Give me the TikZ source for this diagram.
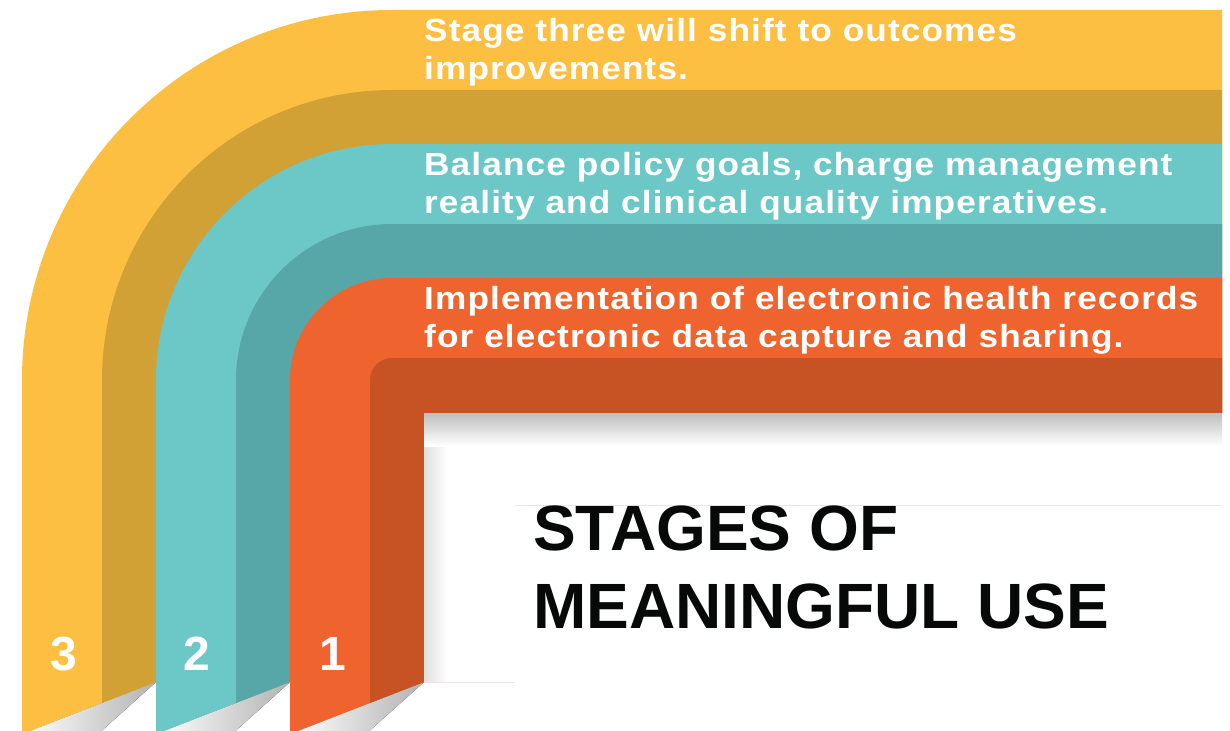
\documentclass[tikz,border=0pt]{standalone}
\usepackage{fontspec}
\setmainfont{Liberation Sans}
\definecolor{ylwlight}{HTML}{FDBF41}
\definecolor{ylwdark}{HTML}{D1A136}
\definecolor{tealight}{HTML}{6BC8C6}
\definecolor{teadark}{HTML}{58A7A8}
\definecolor{orglight}{HTML}{EF632E}
\definecolor{orgdark}{HTML}{C75223}
\definecolor{ink}{HTML}{070808}
\definecolor{hairline}{HTML}{ECE6E4}
\tikzset{
  stagetext/.style={
    anchor=base west, inner sep=0pt, align=left, text=white,
    font=\bfseries\fontsize{32}{38}\selectfont\addfontfeatures{FakeStretch=1.1,LetterSpace=3.5}
  },
  stagenum/.style={
    anchor=base, inner sep=0pt, text=white,
    font=\bfseries\fontsize{48}{48}\selectfont
  },
  titletext/.style={
    anchor=base west, inner sep=0pt, align=left, text=ink,
    font=\bfseries\fontsize{64}{78}\selectfont
  },
  foldshadow/.style={left color=white, right color=black!30}
}
% one stage: light part, dark part and the shadow under its fold
\newcommand{\stageband}[3]{%
  \pgfmathsetmacro{\dl}{#3+80}
  \pgfmathsetmacro{\fx}{#3+134}
  \pgfmathsetmacro{\dy}{734-52*80/134}
  \fill[foldshadow] (#3,734) -- (\fx,682) -- ({#3+76},734) -- cycle;
  \fill[#1] (#3,734) -- (#3,380) arc[start angle=180, end angle=270, radius={392-#3}]
    -- (1222,{#3-12}) -- (1222,680) -- (\fx,680) -- (\fx,682) -- cycle;
  \fill[#2] (\dl,\dy) -- (\dl,380) arc[start angle=180, end angle=270, radius={392-\dl}]
    -- (1222,{\dl-12}) -- (1222,680) -- (\fx,680) -- (\fx,682) -- cycle;
}

\begin{document}
\begin{tikzpicture}[x=1pt, y=-1pt]
  \fill[white] (0,0) rectangle (1230,730);
  \useasboundingbox (0,0) rectangle (1230,730);
  \begin{scope}
    \clip (0,0) rectangle (1230,730);
    \stageband{ylwlight}{ylwdark}{22}
    \stageband{tealight}{teadark}{156}
    \stageband{orglight}{orgdark}{290}
    % the white card
    \fill[white] (424,413) rectangle (1223,684);
    \fill[left color=black!12, right color=white] (424,413) rectangle (448,682);
    \fill[top color=black!25, bottom color=white] (424,413) rectangle (1222,446);
    \draw[hairline, line width=1pt] (515,505) -- (1222,505);
    \draw[hairline, line width=1pt] (424,682) -- (515,682);
  \end{scope}

  \node[stagetext] (stage3) at (424,80) {Stage three will shift to outcomes\\improvements.};
  \node[stagetext] (stage2) at (424,213) {Balance policy goals, charge management\\reality and clinical quality imperatives.};
  \node[stagetext] (stage1) at (424,347) {Implementation of electronic health records\\for electronic data capture and sharing.};

  \node[stagenum] (num3) at (64,670) {3};
  \node[stagenum] (num2) at (197,670) {2};
  \node[stagenum] (num1) at (333,670) {1};

  \node[titletext] (title) at (533,628) {STAGES OF\\MEANINGFUL USE};
\end{tikzpicture}
\end{document}
